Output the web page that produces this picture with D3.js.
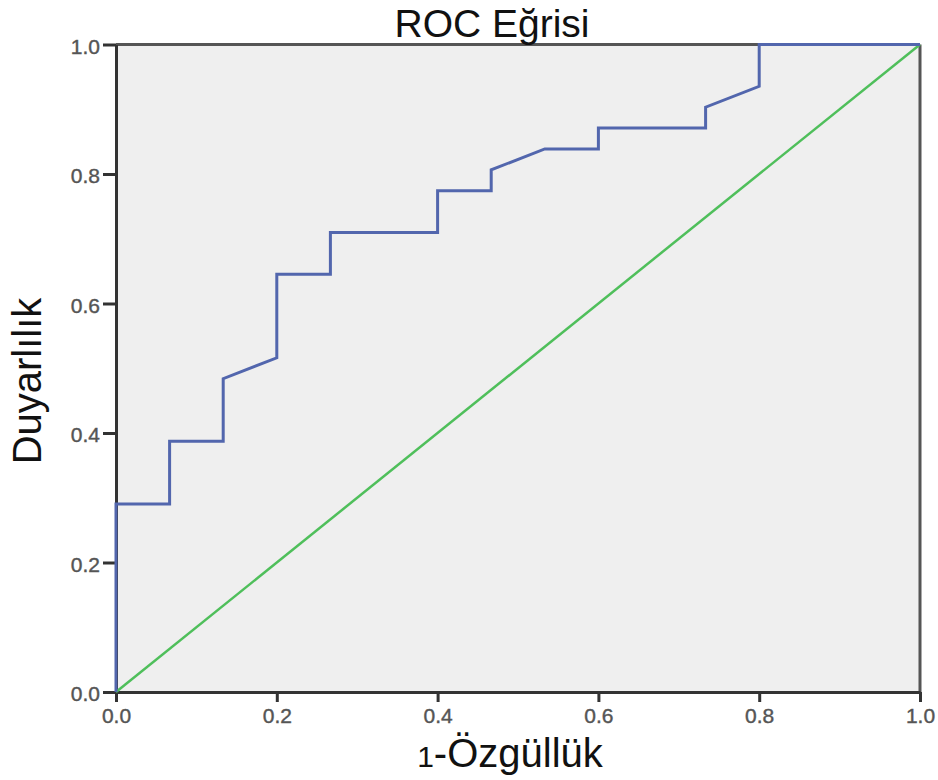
<!DOCTYPE html>
<html>
<head>
<meta charset="utf-8">
<script src="https://cdn.jsdelivr.net/npm/d3@7"></script>
<style>
  html, body { margin: 0; padding: 0; background: #fff; }
  svg { display: block; }
</style>
</head>
<body>
<svg id="chart" width="938" height="780"></svg>
<script>
// ROC curve points: 1 - specificity (x) and sensitivity (y)
const fpr = [0, 0, 1/15, 1/15, 2/15, 2/15, 3/15, 3/15, 4/15, 4/15, 6/15, 6/15, 7/15, 7/15, 8/15, 9/15, 9/15, 11/15, 11/15, 12/15, 12/15, 1];
const tpr = [0, 9/31, 9/31, 12/31, 12/31, 15/31, 16/31, 20/31, 20/31, 22/31, 22/31, 24/31, 24/31, 25/31, 26/31, 26/31, 27/31, 27/31, 28/31, 29/31, 1, 1];
// Reference (chance) line
const refX = [0, 1];
const refY = [0, 1];
const tickValues = [0, 0.2, 0.4, 0.6, 0.8, 1.0];

const svg = d3.select("#chart");
const plotLeft = 116, plotRight = 920, plotTop = 44.5, plotBottom = 692;
const sans = "'Liberation Sans', Arial, Helvetica, sans-serif";

const x = d3.scaleLinear().domain([0, 1]).range([plotLeft, plotRight]);
const y = d3.scaleLinear().domain([0, 1]).range([plotBottom, plotTop]);

// panel background
svg.append("rect")
  .attr("x", plotLeft).attr("y", plotTop)
  .attr("width", plotRight - plotLeft).attr("height", plotBottom - plotTop)
  .attr("fill", "#efefef");

// frame (top and right edges)
svg.append("line").attr("x1", plotLeft).attr("x2", plotRight).attr("y1", plotTop).attr("y2", plotTop)
  .attr("stroke", "#555").attr("stroke-width", 3);
svg.append("line").attr("x1", plotRight).attr("x2", plotRight).attr("y1", plotTop).attr("y2", plotBottom)
  .attr("stroke", "#555").attr("stroke-width", 3);

// axes
const xAxis = d3.axisBottom(x).tickValues(tickValues).tickFormat(d3.format(".1f"))
  .tickSize(10).tickSizeOuter(0).tickPadding(6);
const yAxis = d3.axisLeft(y).tickValues(tickValues).tickFormat(d3.format(".1f"))
  .tickSize(13).tickSizeOuter(0).tickPadding(3);

const gx = svg.append("g").attr("transform", `translate(0,${plotBottom})`).call(xAxis);
const gy = svg.append("g").attr("transform", `translate(${plotLeft},0)`).call(yAxis);

[gx, gy].forEach(g => {
  g.select(".domain").attr("stroke", "#333").attr("stroke-width", 3);
  g.selectAll(".tick line").attr("stroke", "#333").attr("stroke-width", 3);
  g.selectAll(".tick text")
    .attr("fill", "#555")
    .attr("stroke", "#555")
    .attr("stroke-width", 0.4)
    .style("font-family", sans)
    .style("font-size", "21px");
});
gx.selectAll(".tick text").attr("dy", "0.72em");
gy.selectAll(".tick text").attr("dy", "0.42em");

// diagonal reference line
svg.append("path")
  .datum(refX.map((v, i) => [v, refY[i]]))
  .attr("fill", "none")
  .attr("stroke", "#4fbf5b")
  .attr("stroke-width", 2.5)
  .attr("d", d3.line().x(d => x(d[0])).y(d => y(d[1])));

// ROC curve
svg.append("path")
  .datum(fpr.map((v, i) => [v, tpr[i]]))
  .attr("fill", "none")
  .attr("stroke", "#5266ad")
  .attr("stroke-width", 3)
  .attr("stroke-linejoin", "miter")
  .attr("d", d3.line().x(d => x(d[0])).y(d => y(d[1])));

// titles
svg.append("text")
  .attr("x", 492).attr("y", 37)
  .attr("text-anchor", "middle")
  .style("font-family", sans)
  .style("font-size", "39px")
  .attr("fill", "#111")
  .text("ROC Eğrisi");

const xl = svg.append("text")
  .attr("x", 510).attr("y", 767)
  .attr("text-anchor", "middle")
  .style("font-family", sans)
  .style("font-size", "40px")
  .attr("fill", "#111");
xl.append("tspan").style("font-size", "30px").text("1");
xl.append("tspan").text("-Özgüllük");

svg.append("text")
  .attr("transform", "translate(41,381) rotate(-90)")
  .attr("text-anchor", "middle")
  .style("font-family", sans)
  .style("font-size", "40px")
  .attr("fill", "#111")
  .text("Duyarlılık");
</script>
</body>
</html>
